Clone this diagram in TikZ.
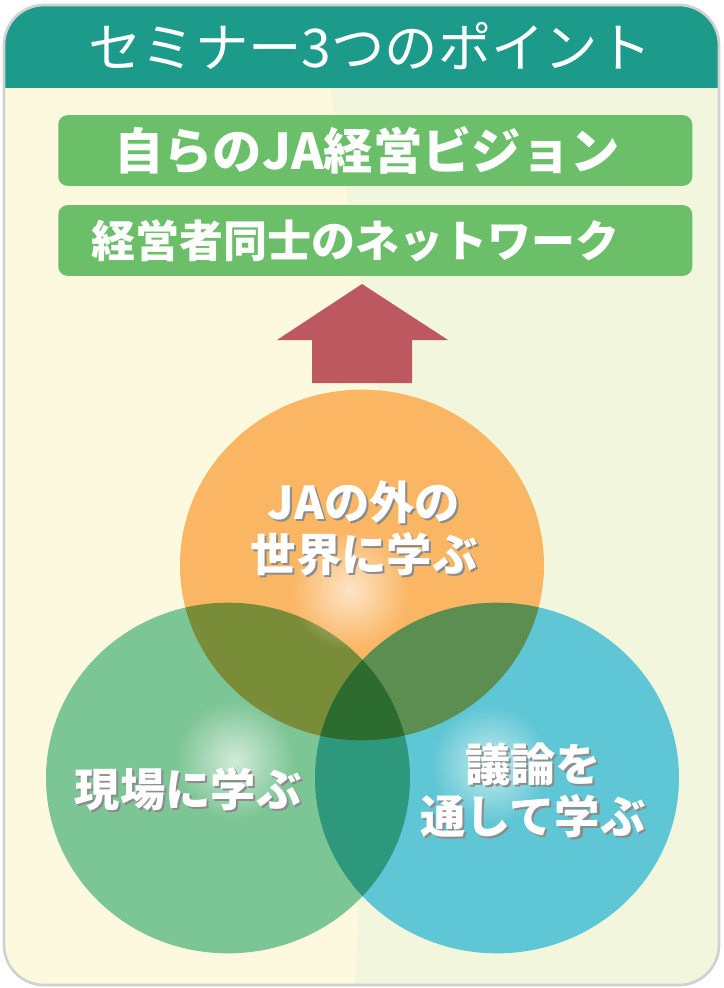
\documentclass[tikz,border=0pt]{standalone}
\usepackage{fontspec}
\newfontfamily\jpfont{Noto Sans CJK JP}
\usetikzlibrary{shapes.geometric}
\usetikzlibrary{fadings}
\definecolor{headteal}{HTML}{1C9A8A}
\definecolor{cream}{HTML}{FDF9DF}
\definecolor{creamgreen}{HTML}{F1F6DD}
\definecolor{boxgreen}{HTML}{6BBF69}
\definecolor{arrowred}{HTML}{BE5860}
\definecolor{vennorange}{HTML}{FAB662}
\definecolor{venngreen}{HTML}{7CC594}
\definecolor{vennblue}{HTML}{5EC6D4}
\tikzfading[name=glowfade, inner color=transparent!35, outer color=transparent!100]
\tikzset{greenbox/.style={rounded corners=7pt, fill=boxgreen, text=white, anchor=west,
    minimum height=53pt, text width=475.5pt, inner xsep=0pt, align=left}}
\tikzset{venn/.style={ellipse, minimum width=273pt, minimum height=263pt, inner sep=0pt}}
\tikzset{vennlabel/.style={text=white, align=center,
    font=\jpfont\bfseries\fontsize{34pt}{39pt}\selectfont}}
\newcommand{\shtext}[1]{\leavevmode\rlap{\kern1.5pt\raisebox{-1.5pt}{\textcolor{black!45}{#1}}}#1}

\begin{document}
\begin{tikzpicture}[x=0.75pt,y=-0.75pt]
  \useasboundingbox (0,0) rectangle (724,988);
  \fill[white] (0,0) rectangle (724,988);
  % panel and title bar
  \fill[cream, rounded corners=30pt] (4,5) rectangle (719,985);
  \begin{scope}
    \clip[rounded corners=30pt] (4,5) rectangle (719,985);
    \fill[creamgreen] (330,88) -- (724,88) -- (724,988) -- (355,988) -- (380,400) -- cycle;
    \fill[headteal] (0,0) rectangle (724,88);
  \end{scope}
  \draw[black!18, line width=2pt, rounded corners=30pt] (4,5) rectangle (719,985);
  \node[text=white, font=\jpfont\fontsize{40pt}{42pt}\selectfont] (title) at (370,46) {セミナー3つのポイント};

  % goals
  \node[greenbox, font=\jpfont\bfseries\fontsize{37pt}{40pt}\selectfont] (vision) at (58,150.5) {\hspace*{42pt}自らのJA経営ビジョン};
  \node[greenbox, font=\jpfont\bfseries\fontsize{33pt}{38pt}\selectfont] (network) at (58,240.5) {\hspace*{25pt}経営者同士のネットワーク};

  \fill[arrowred] (362,284) -- (448,340) -- (412,340) -- (412,383)
    -- (312,383) -- (312,340) -- (277,340) -- cycle;

  % three circles
  \begin{scope}[blend group=multiply]
    \foreach \x/\y/\col/\name in {
      362/565/vennorange/outside,
      228/778/venngreen/field,
      497/778/vennblue/debate%
    } {
      \node[venn, fill=\col] (\name) at (\x, \y) {};
    }
  \end{scope}
  \foreach \x/\y in {350/590, 235/760, 490/765} {
    \fill[white, path fading=glowfade] (\x,\y) circle (45pt);
  }

  \node[vennlabel] (outtext) at (364,529) {\shtext{JAの外の}\\\shtext{世界に学ぶ}};
  \node[vennlabel] (fieldtext) at (188,790) {\shtext{現場に学ぶ}};
  \node[vennlabel] (debatetext) at (533,791) {\shtext{議論を}\\\shtext{通して学ぶ}};
\end{tikzpicture}
\end{document}
